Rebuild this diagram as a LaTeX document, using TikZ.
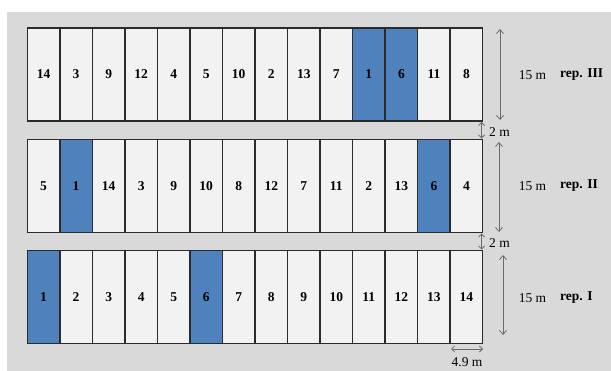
\documentclass[tikz,border=0pt]{standalone}
\usepackage{fontspec}
\setmainfont{Liberation Serif}
\usetikzlibrary{arrows.meta}
\definecolor{bg}{HTML}{D9D9D9}
\definecolor{cellfill}{HTML}{F2F2F2}
\definecolor{blueplot}{HTML}{4F81BD}
\definecolor{edge}{HTML}{2B2B2B}
\definecolor{arr}{HTML}{6A6A6A}
\tikzset{
  plot/.style={draw=edge, line width=1.4pt, fill=cellfill, minimum width=32.53pt, minimum height=93pt, inner sep=0pt, outer sep=0pt, anchor=north west, font=\fontsize{13.5}{15}\selectfont\bfseries},
  blueplotcell/.style={plot, fill=blueplot},
  dim/.style={draw=arr, line width=0.8pt, {Straight Barb[length=4pt,width=7pt]}-{Straight Barb[length=4pt,width=7pt]}},
  smalldim/.style={draw=arr, line width=0.8pt, {Straight Barb[length=3pt,width=6pt]}-{Straight Barb[length=3pt,width=6pt]}},
  lbl/.style={font=\fontsize{13.5}{15}\selectfont, inner sep=0pt},
  replbl/.style={font=\fontsize{13.5}{15}\selectfont\bfseries, inner sep=0pt}
}
\begin{document}
\begin{tikzpicture}[x=1pt,y=-1pt]
\useasboundingbox (0,0) rectangle (611,371);
\fill[white] (0,0) rectangle (611,371);
\fill[bg] (7,12) rectangle (611,371);
% rep III
\foreach \v [count=\i] in {14,3,9,12,4,5,10,2,13,7,1,6,11,8}{
  \pgfmathsetmacro{\xx}{27.3+(\i-1)*32.53}
  \ifnum\i=11 \node[blueplotcell] (r3c\i) at (\xx,28) {\v};
  \else\ifnum\i=12 \node[blueplotcell] (r3c\i) at (\xx,28) {\v};
  \else \node[plot] (r3c\i) at (\xx,28) {\v};\fi\fi
}
% rep II
\foreach \v [count=\i] in {5,1,14,3,9,10,8,12,7,11,2,13,6,4}{
  \pgfmathsetmacro{\xx}{27.3+(\i-1)*32.53}
  \ifnum\i=2 \node[blueplotcell] (r2c\i) at (\xx,139.5) {\v};
  \else\ifnum\i=13 \node[blueplotcell] (r2c\i) at (\xx,139.5) {\v};
  \else \node[plot] (r2c\i) at (\xx,139.5) {\v};\fi\fi
}
% rep I
\foreach \v [count=\i] in {1,2,3,4,5,6,7,8,9,10,11,12,13,14}{
  \pgfmathsetmacro{\xx}{27.3+(\i-1)*32.53}
  \ifnum\i=1 \node[blueplotcell] (r1c\i) at (\xx,250.5) {\v};
  \else\ifnum\i=6 \node[blueplotcell] (r1c\i) at (\xx,250.5) {\v};
  \else \node[plot] (r1c\i) at (\xx,250.5) {\v};\fi\fi
}
% dimension coordinates
\coordinate (a3t) at (500,29);
\coordinate (a3b) at (500,120);
\coordinate (a2t) at (499,142);
\coordinate (a2b) at (499,232);
\coordinate (a1t) at (503,255);
\coordinate (a1b) at (503,335);
\draw[dim] (a3t) -- (a3b);
\draw[dim] (a2t) -- (a2b);
\draw[dim] (a1t) -- (a1b);
\node[lbl] (m3) at (532.5,75) {15 m};
\node[lbl] (m2) at (532.5,186) {15 m};
\node[lbl] (m1) at (532.5,298) {15 m};
\node[replbl, anchor=west] (rep3) at (560,75) {rep. III};
\node[replbl, anchor=west] (rep2) at (560,186) {rep. II};
\node[replbl, anchor=west] (rep1) at (560,298) {rep. I};
% 2 m gaps
\coordinate (g1t) at (481.5,122);
\coordinate (g1b) at (481.5,138.5);
\coordinate (g2t) at (481.5,233.5);
\coordinate (g2b) at (481.5,249.5);
\draw[smalldim] (g1t) -- (g1b);
\draw[smalldim] (g2t) -- (g2b);
\node[lbl, anchor=west] (gap1) at (489,132) {2 m};
\node[lbl, anchor=west] (gap2) at (489,243) {2 m};
% 4.9 m
\coordinate (wl) at (451,349);
\coordinate (wr) at (483,349);
\draw[smalldim] (wl) -- (wr);
\node[lbl] (wlbl) at (467,362.5) {4.9 m};
\end{tikzpicture}
\end{document}
